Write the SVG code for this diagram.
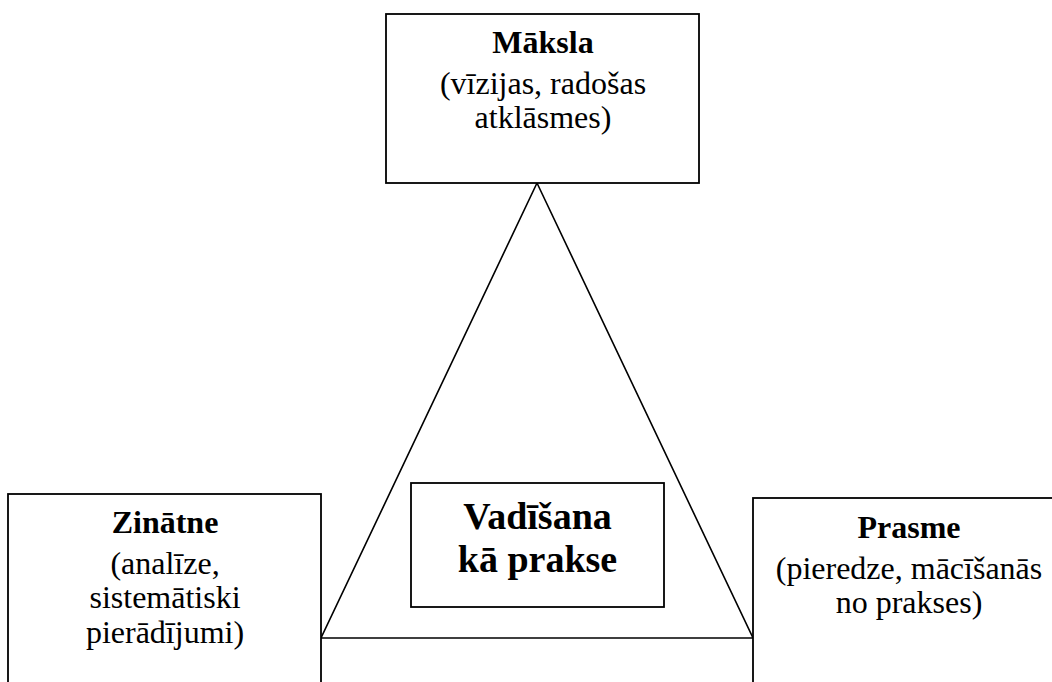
<svg xmlns="http://www.w3.org/2000/svg" width="1052" height="682" viewBox="0 0 1052 682">
<style>
.box{fill:#fff;stroke:#000;stroke-width:1.8}
.ln{fill:none;stroke:#000;stroke-width:1.6}
text{font-family:'Liberation Serif','Tinos','DejaVu Serif',serif;fill:#000;text-anchor:middle}
.t{font-size:32px;font-weight:bold}
.b{font-size:32px}
.c{font-size:38px;font-weight:bold}
</style>
<rect x="0" y="0" width="1052" height="682" fill="#fff"/>
<g id="connectors">
<polygon class="ln" points="537,183 321,638 753,638"/>
</g>
<g id="maksla">
<rect class="box" x="386" y="14" width="313" height="169"/>
<text class="t" x="543" y="53">Māksla</text>
<text class="b" x="543" y="94">(vīzijas, radošas</text>
<text class="b" x="543" y="128">atklāsmes)</text>
</g>
<g id="zinatne">
<rect class="box" x="8" y="494" width="313" height="200"/>
<text class="t" x="165" y="533">Zinātne</text>
<text class="b" x="165" y="574">(analīze,</text>
<text class="b" x="165" y="608">sistemātiski</text>
<text class="b" x="165" y="643">pierādījumi)</text>
</g>
<g id="prasme">
<rect class="box" x="753" y="498" width="320" height="200"/>
<text class="t" x="909" y="538">Prasme</text>
<text class="b" x="909" y="579">(pieredze, mācīšanās</text>
<text class="b" x="909" y="613">no prakses)</text>
</g>
<g id="vadisana">
<rect class="box" x="411" y="483" width="253" height="124"/>
<text class="c" x="537.5" y="529">Vadīšana</text>
<text class="c" x="537.5" y="572">kā prakse</text>
</g>
</svg>
